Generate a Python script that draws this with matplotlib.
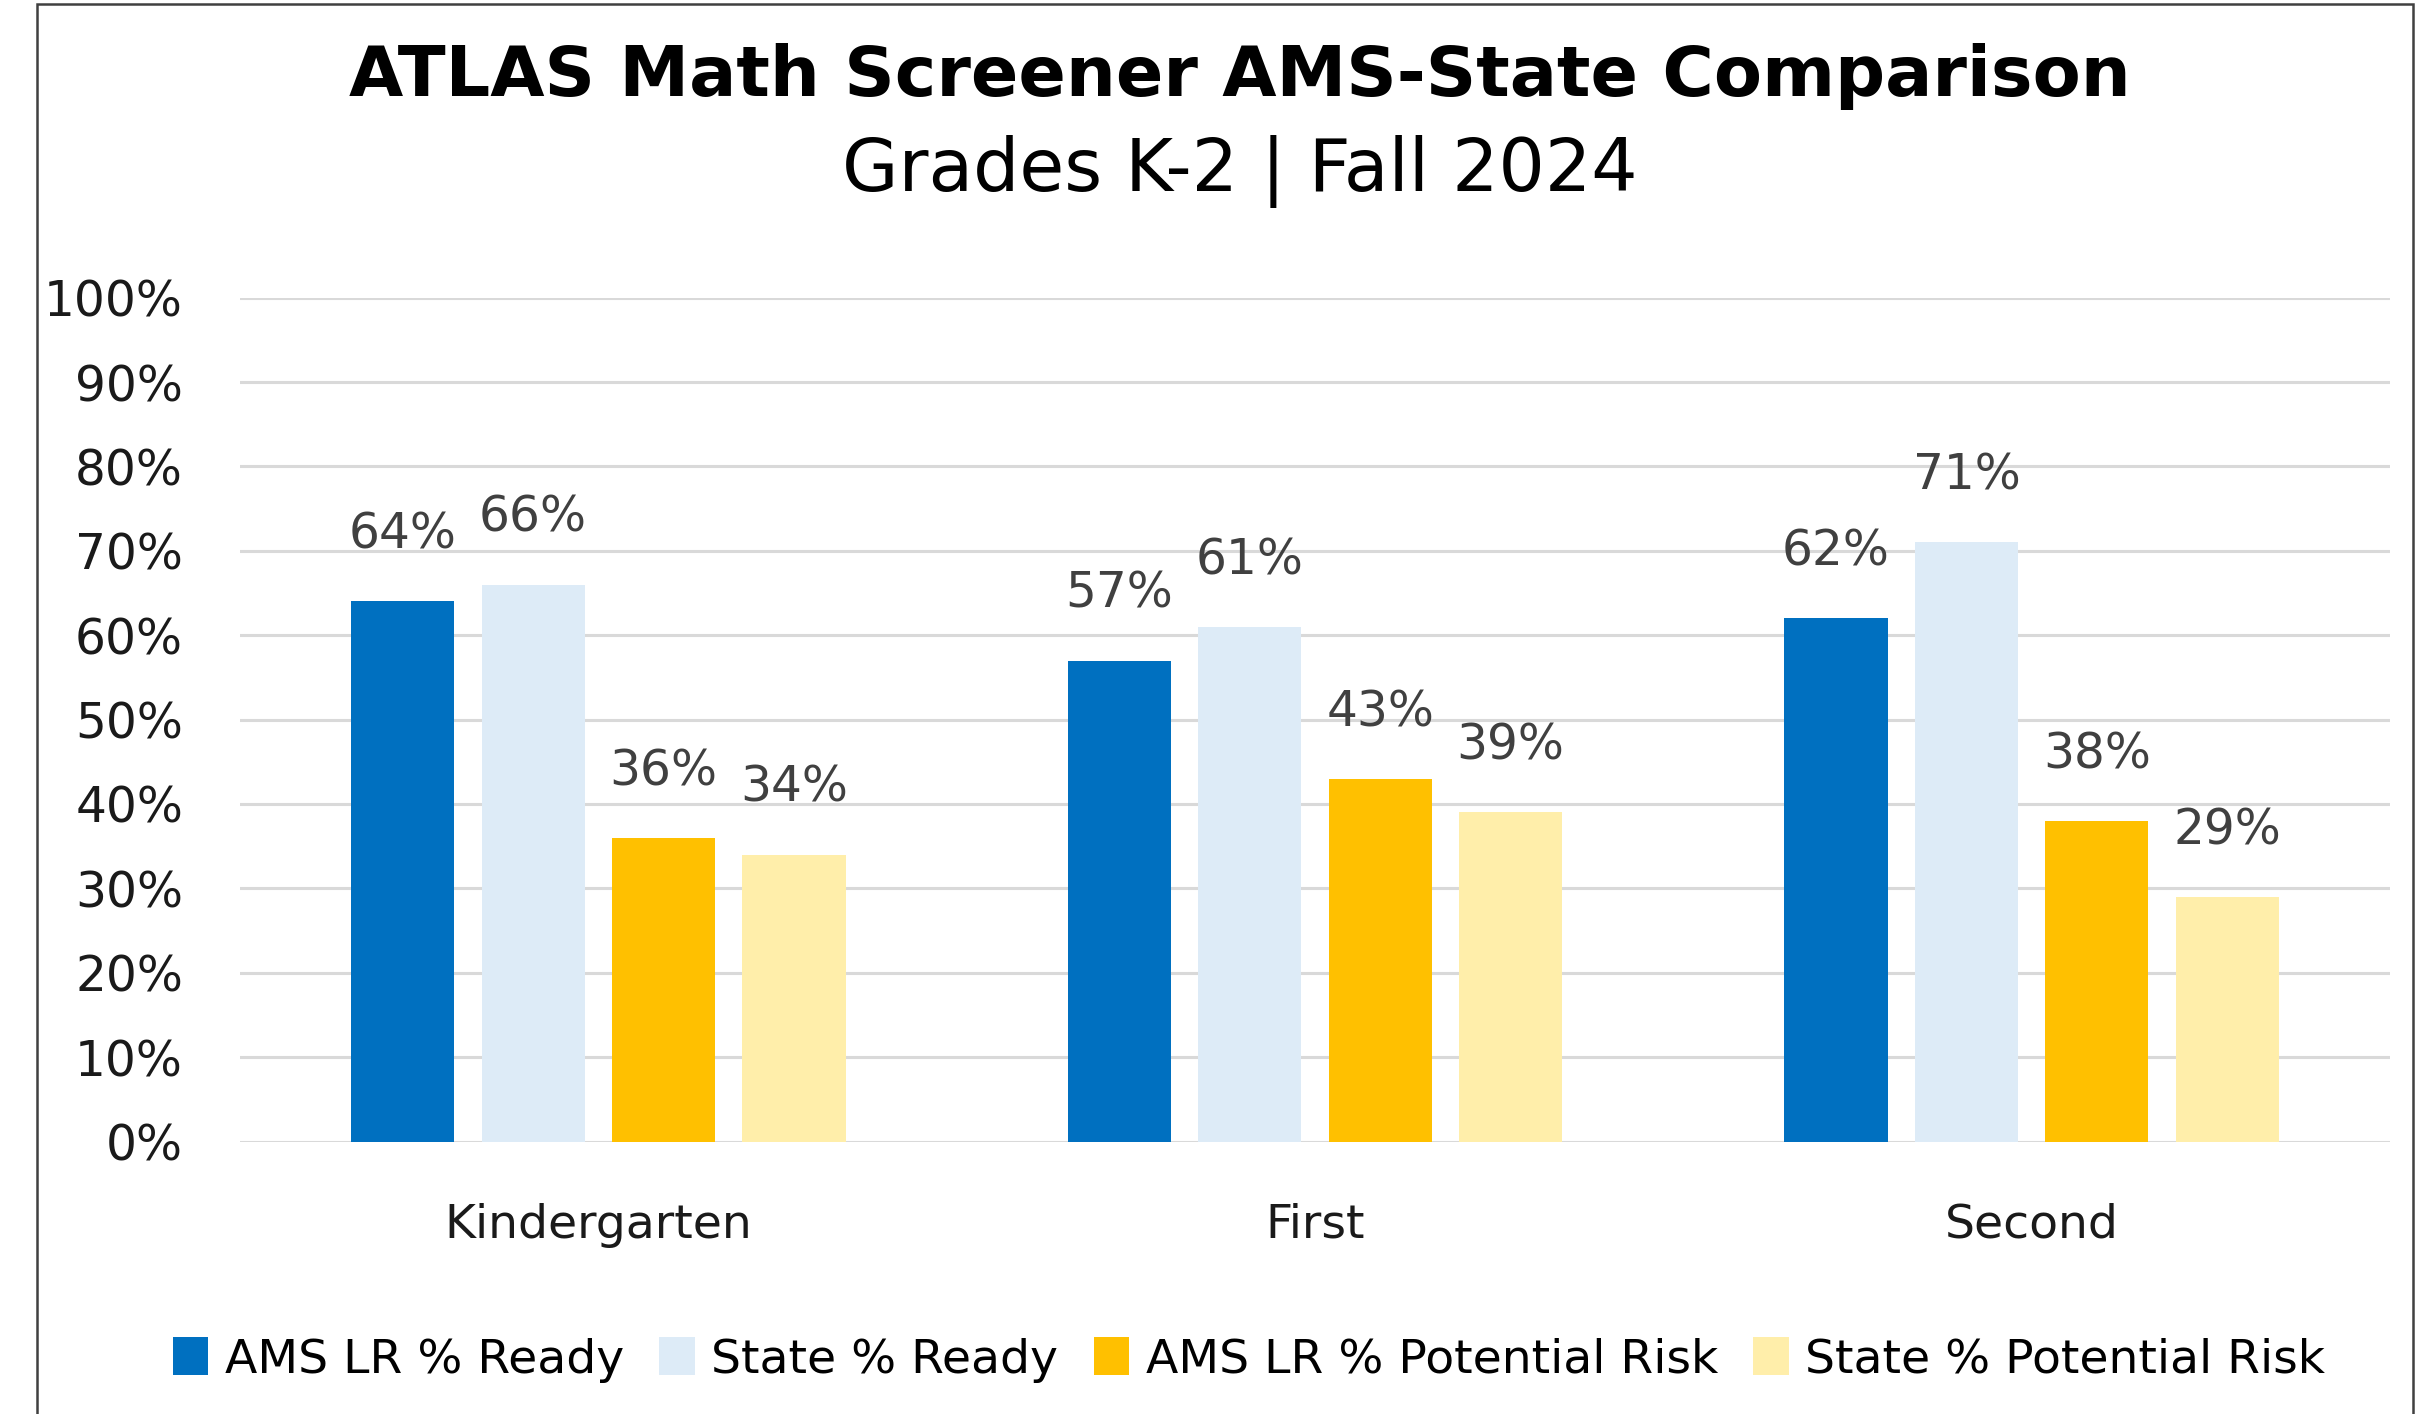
import numpy as np
import matplotlib
matplotlib.use("Agg")
import matplotlib.pyplot as plt
from matplotlib.patches import Rectangle

# data
grades = ["Kindergarten", "First", "Second"]
series = ["AMS LR % Ready", "State % Ready", "AMS LR % Potential Risk", "State % Potential Risk"]
ams_ready = [64, 57, 62]
state_ready = [66, 61, 71]
ams_risk = [36, 43, 38]
state_risk = [34, 39, 29]
yticks = [0, 10, 20, 30, 40, 50, 60, 70, 80, 90, 100]

COLORS = ["#0070C0", "#DDEBF7", "#FFC000", "#FFEEAA"]
W, H = 2418, 1414

plt.rcParams["font.family"] = "DejaVu Sans"
fig = plt.figure(figsize=(W / 100, H / 100), dpi=100)
ax = fig.add_axes([240 / W, 1 - 1141.5 / H, (2390 - 240) / W, (1141.5 - 297.7) / H])

x = np.arange(len(grades))
pitch, bw = 0.182, 0.144
vals = [ams_ready, state_ready, ams_risk, state_risk]
for i, (v, name, c) in enumerate(zip(vals, series, COLORS)):
    xs = x + (i - 1.5) * pitch
    ax.bar(xs, v, width=bw, color=c, label=name, zorder=3)
    for xx, vv in zip(xs, v):
        ax.text(xx, vv + 7.9, f"{vv}%", ha="center", va="center",
                fontsize=35, color="#404040", zorder=4)

ax.set_xlim(-0.5, 2.5)
ax.set_ylim(0, 100)
ax.set_yticks(yticks)
ax.set_yticklabels([f"{t}%" for t in yticks], fontsize=35, color="#1a1a1a")
ax.set_xticks(x)
ax.set_xticklabels(grades, fontsize=34, color="#1a1a1a")
ax.tick_params(axis="both", length=0)
ax.tick_params(axis="y", pad=41)
ax.tick_params(axis="x", pad=44)
ax.grid(axis="y", color="#D9D9D9", lw=2.2, zorder=0)
for s in ("top", "right", "left", "bottom"):
    ax.spines[s].set_visible(False)

fig.text(1240 / W, 1 - 76 / H, "ATLAS Math Screener AMS-State Comparison",
         ha="center", va="center", fontsize=50.5, fontweight="bold", color="black")
fig.text(1240 / W, 1 - 172 / H, "Grades K-2 | Fall 2024",
         ha="center", va="center", fontsize=52.5, color="black")

fig.legend(loc="center", bbox_to_anchor=(1249 / W, 1 - 1360 / H), ncol=4,
           frameon=False, fontsize=34, handlelength=0.75, handleheight=0.85,
           handletextpad=0.35, columnspacing=0.75)

fig.patches.append(Rectangle((37 / W, -0.05), (2413 - 37) / W, 1.05 - 4 / H,
                             transform=fig.transFigure, fill=False,
                             edgecolor="#404040", lw=1.8))

fig.savefig("out.png", dpi=100)
